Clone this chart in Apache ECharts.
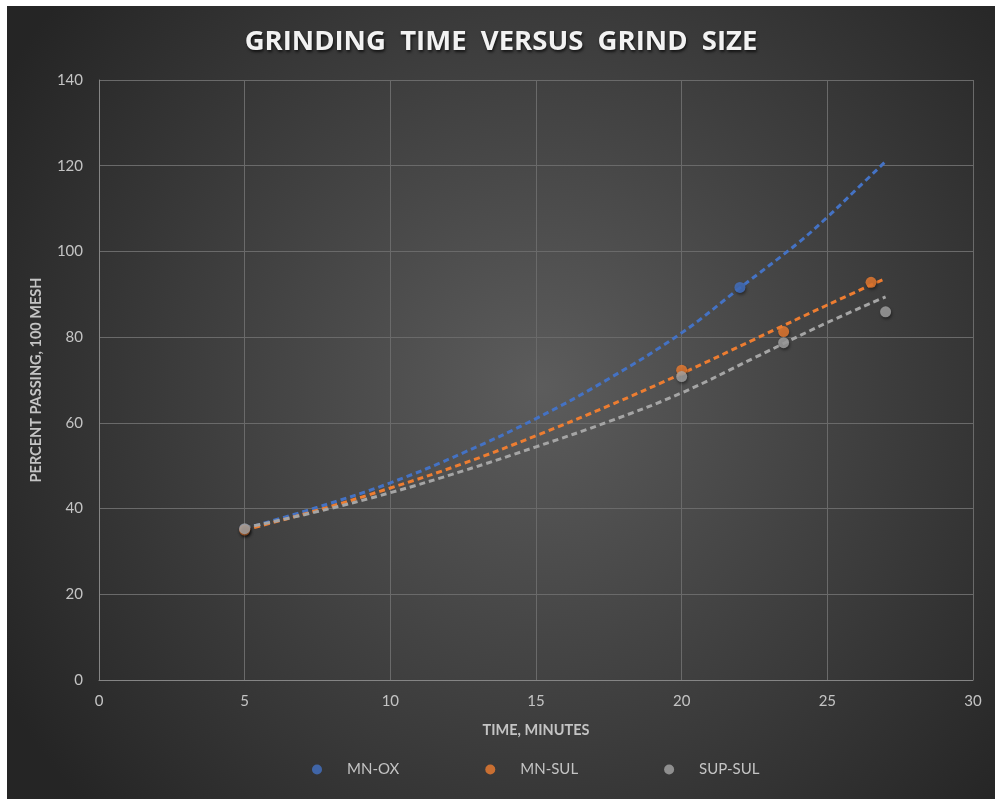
<!DOCTYPE html>
<html>
<head>
<meta charset="utf-8">
<script src="https://cdn.jsdelivr.net/npm/echarts@6/dist/echarts.min.js"></script>
<style>
  html, body { margin: 0; padding: 0; background: #ffffff; }
  #chart { position: absolute; left: 7px; top: 6px; width: 988px; height: 793px; }
</style>
</head>
<body>
<div id="chart"></div>
<script>
// Measured scatter points [time, percent passing]
const mnOx = [[5, 35.2], [22, 91.6]];
const mnSul = [[5, 35.0], [20, 72.3], [23.5, 81.3], [26.5, 92.8]];
const supSul = [[5, 35.3], [20, 70.8], [23.5, 78.7], [27, 85.9]];

// Trendlines
const mnOxTrend = [[5, 35.3], [7.5, 40.3], [10, 46], [12.5, 53], [15, 61], [17.5, 70.3], [20, 81], [22, 91.5], [24, 102], [25, 108], [26, 114.5], [27, 121]];
const mnSulTrend = [[5, 35], [7.5, 39.6], [10, 44.8], [12.5, 50.5], [15, 57], [17.5, 64], [20, 71.5], [22.5, 79.5], [25, 87.5], [27, 93.7]];
const supSulTrend = [[5, 35.5], [7.5, 39.3], [10, 43.7], [12.5, 48.8], [15, 54.4], [17.5, 60.3], [20, 67], [22.5, 75.2], [25, 83.4], [27, 89.4]];

const seriesNames = ['MN-OX', 'MN-SUL', 'SUP-SUL'];
const colors = ['#4472C4', '#ED7D31', '#A5A5A5'];

const chart = echarts.init(document.getElementById('chart'));
const font = 'Lato, "Open Sans", sans-serif';
const labelColor = '#c4c4c4';

function trend(name, data, color) {
  return {
    name: name + ' trend', type: 'line', data: data, smooth: 0.4,
    showSymbol: false, symbol: 'none', silent: true, z: 2,
    lineStyle: { color: color, width: 3, type: [6, 4] }
  };
}
function pts(name, data, color) {
  return {
    name: name, type: 'scatter', data: data, symbolSize: 11, z: 5,
    itemStyle: { color: color, shadowBlur: 3, shadowColor: 'rgba(0,0,0,0.5)', shadowOffsetX: 1, shadowOffsetY: 2 }
  };
}

chart.setOption({
  animation: false,
  backgroundColor: {
    type: 'radial', x: 0.54, y: 0.48, r: 0.78,
    colorStops: [
      { offset: 0, color: '#5c5c5c' },
      { offset: 1, color: '#252525' }
    ]
  },
  title: {
    text: 'GRINDING  TIME  VERSUS  GRIND  SIZE',
    left: 'center', top: 17,
    textStyle: {
      color: '#f2f2f2', fontSize: 27.5, fontWeight: 'bold', fontFamily: '"Open Sans", Lato, sans-serif',
      textShadowColor: 'rgba(0,0,0,0.7)', textShadowBlur: 3, textShadowOffsetX: 1, textShadowOffsetY: 2
    }
  },
  legend: {
    data: seriesNames, bottom: 17, left: 300,
    itemWidth: 50, itemHeight: 10, itemGap: 86, icon: 'circle',
    textStyle: { color: labelColor, fontSize: 15, fontFamily: font }
  },
  grid: { left: 92, top: 74, width: 874, height: 600 },
  xAxis: {
    type: 'value', min: 0, max: 30, interval: 5,
    name: 'TIME, MINUTES', nameLocation: 'middle', nameGap: 43,
    nameTextStyle: { color: labelColor, fontSize: 14.5, fontWeight: 'bold', fontFamily: font },
    axisLine: { show: true, lineStyle: { color: '#858585', width: 1 } },
    axisTick: { show: false },
    axisLabel: { color: labelColor, fontSize: 15, fontFamily: font, margin: 14 },
    splitLine: { show: true, lineStyle: { color: '#6a6a6a', width: 1 } }
  },
  yAxis: {
    type: 'value', min: 0, max: 140, interval: 20,
    name: 'PERCENT PASSING, 100 MESH', nameLocation: 'middle', nameGap: 55, nameRotate: 90,
    nameTextStyle: { color: labelColor, fontSize: 14.5, fontWeight: 'bold', fontFamily: font },
    axisLine: { show: true, lineStyle: { color: '#858585', width: 1 } },
    axisTick: { show: false },
    axisLabel: { color: labelColor, fontSize: 15, fontFamily: font, margin: 16 },
    splitLine: { show: true, lineStyle: { color: '#6a6a6a', width: 1 } }
  },
  series: [
    trend(seriesNames[0], mnOxTrend, colors[0]),
    trend(seriesNames[1], mnSulTrend, colors[1]),
    trend(seriesNames[2], supSulTrend, colors[2]),
    pts(seriesNames[0], mnOx, colors[0]),
    pts(seriesNames[1], mnSul, colors[1]),
    pts(seriesNames[2], supSul, colors[2])
  ]
});
</script>
</body>
</html>
